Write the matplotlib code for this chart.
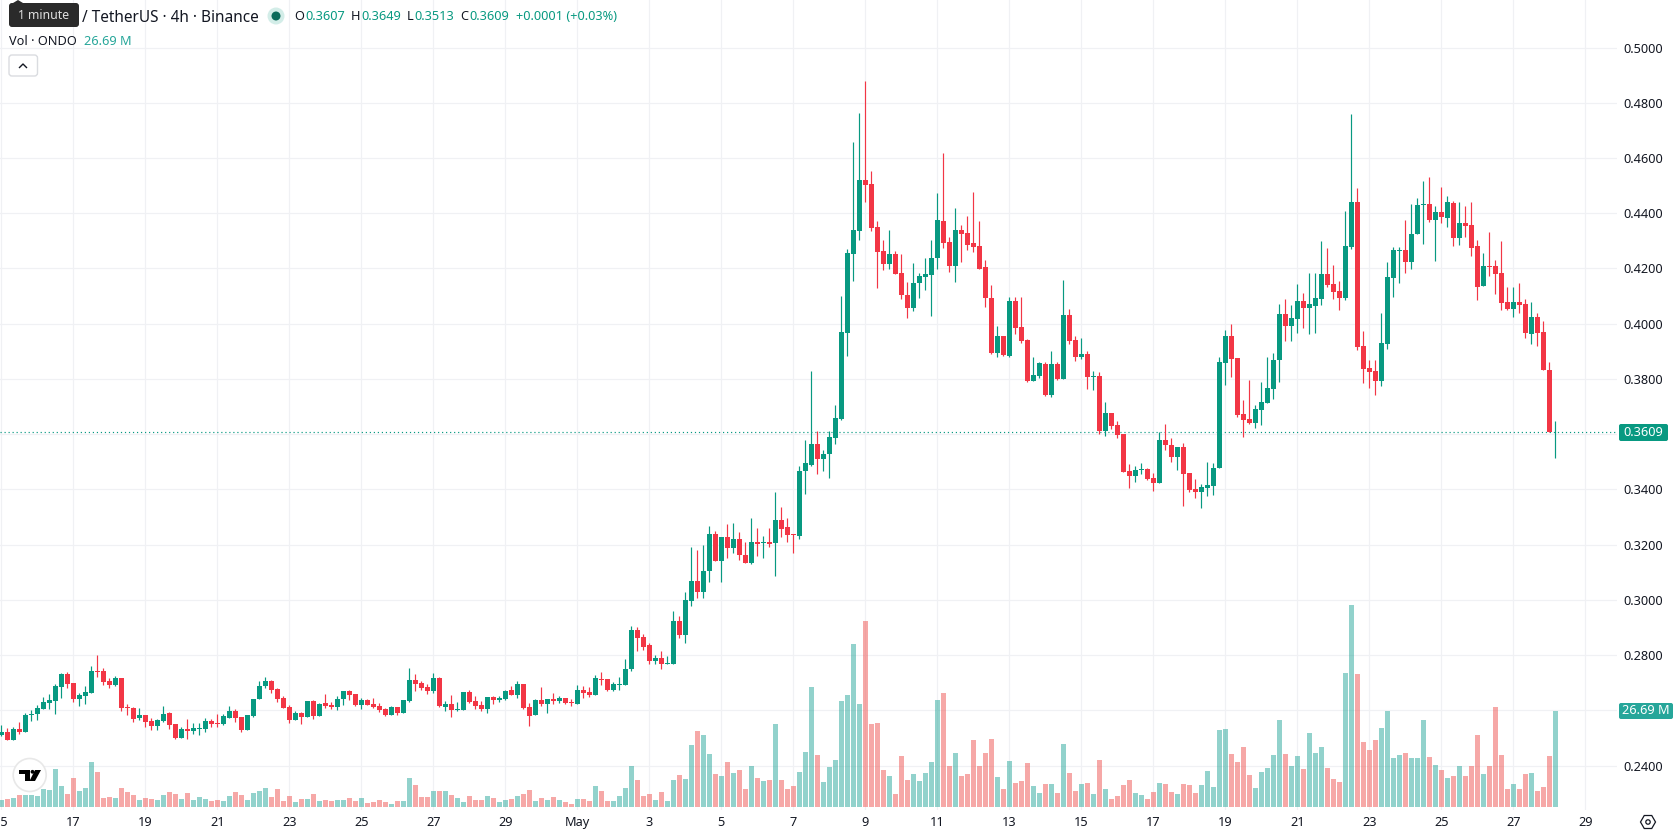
import matplotlib
matplotlib.use("Agg")
import matplotlib.pyplot as plt
import numpy as np
from matplotlib.patches import Circle, FancyBboxPatch, Polygon

plt.rcParams["font.family"] = ["Noto Sans", "DejaVu Sans"]

# ONDO/USDT, 4-hour candles
opens = [
    .2509, .2520, .2491, .2531, .2520, .2582, .2586, .2604, .2625, .2633,
    .2683, .2730, .2698, .2640, .2651, .2662, .2741, .2741, .2705, .2691,
    .2716, .2611, .2607, .2571, .2582, .2560, .2542, .2560, .2589, .2549,
    .2499, .2531, .2524, .2531, .2531, .2560, .2553, .2549, .2571, .2596,
    .2575, .2528, .2578, .2640, .2687, .2705, .2676, .2643, .2611, .2564,
    .2589, .2575, .2633, .2578, .2625, .2618, .2611, .2640, .2669, .2658,
    .2618, .2636, .2622, .2614, .2604, .2582, .2611, .2589, .2633, .2709,
    .2698, .2683, .2669, .2716, .2611, .2622, .2600, .2600, .2665, .2633,
    .2618, .2604, .2647, .2636, .2640, .2672, .2654, .2694, .2611, .2582,
    .2636, .2622, .2640, .2633, .2643, .2629, .2622, .2672, .2665, .2654,
    .2715, .2715, .2675, .2693, .2693, .2748, .2892, .2867, .2835, .2780,
    .2791, .2769, .2769, .2925, .2871, .2994, .3070, .3030, .3103, .3240,
    .3139, .3226, .3186, .3222, .3164, .3135, .3211, .3204, .3211, .3204,
    .3288, .3262, .3237, .3230, .3465, .3490, .3565, .3509, .3527, .3587,
    .3656, .3967, .4251, .4335, .4519, .4505, .4349, .4262, .4215, .4251,
    .4182, .4103, .4056, .4146, .4168, .4175, .4237, .4371, .4295, .4208,
    .4338, .4327, .4291, .4280, .4204, .4092, .3892, .3954, .3882, .4081,
    .3987, .3940, .3791, .3809, .3853, .3740, .3853, .3801, .4032, .3942,
    .3880, .3891, .3808, .3811, .3612, .3677, .3634, .3601, .3467, .3449,
    .3471, .3474, .3442, .3424, .3579, .3561, .3518, .3554, .3460, .3402,
    .3391, .3406, .3413, .3478, .3859, .3956, .3877, .3674, .3656, .3641,
    .3688, .3714, .3764, .3869, .4036, .3993, .4018, .4083, .4058, .4065,
    .4088, .4179, .4143, .4117, .4092, .4277, .4440, .3918, .3838, .3827,
    .3791, .3925, .4164, .4262, .4266, .4222, .4324, .4429, .4432, .4374,
    .4403, .4382, .4436, .4309, .4364, .4356, .4280, .4135, .4208, .4208,
    .4182, .4077, .4052, .4077, .4070, .3961, .4023, .3969, .3831, .3607,
]
closes = [
    .2520, .2491, .2531, .2520, .2582, .2586, .2607, .2629, .2636, .2687,
    .2730, .2694, .2640, .2654, .2665, .2741, .2738, .2701, .2691, .2716,
    .2607, .2607, .2567, .2582, .2557, .2542, .2564, .2586, .2546, .2499,
    .2531, .2524, .2535, .2535, .2560, .2549, .2549, .2578, .2596, .2571,
    .2528, .2582, .2640, .2687, .2705, .2672, .2640, .2607, .2564, .2589,
    .2575, .2633, .2578, .2622, .2614, .2611, .2640, .2669, .2654, .2618,
    .2636, .2618, .2611, .2600, .2582, .2611, .2589, .2636, .2709, .2694,
    .2680, .2669, .2716, .2614, .2622, .2600, .2604, .2665, .2629, .2614,
    .2604, .2647, .2636, .2643, .2669, .2654, .2694, .2607, .2578, .2636,
    .2622, .2640, .2633, .2643, .2625, .2625, .2672, .2662, .2654, .2716,
    .2711, .2675, .2697, .2697, .2751, .2892, .2863, .2831, .2780, .2791,
    .2769, .2773, .2925, .2871, .2998, .3070, .3030, .3106, .3240, .3139,
    .3226, .3186, .3222, .3161, .3135, .3211, .3201, .3211, .3201, .3288,
    .3255, .3233, .3233, .3465, .3494, .3565, .3509, .3527, .3590, .3659,
    .3971, .4255, .4338, .4519, .4501, .4345, .4259, .4215, .4251, .4179,
    .4103, .4056, .4146, .4172, .4179, .4237, .4374, .4291, .4208, .4338,
    .4324, .4284, .4277, .4197, .4092, .3892, .3954, .3885, .4081, .3983,
    .3936, .3791, .3813, .3856, .3740, .3853, .3798, .4032, .3938, .3880,
    .3891, .3808, .3811, .3612, .3677, .3630, .3598, .3463, .3449, .3471,
    .3474, .3438, .3424, .3579, .3561, .3518, .3554, .3456, .3398, .3391,
    .3409, .3416, .3478, .3862, .3956, .3873, .3670, .3652, .3641, .3692,
    .3717, .3768, .3869, .4036, .3993, .4022, .4083, .4058, .4072, .4094,
    .4179, .4139, .4114, .4092, .4280, .4440, .3914, .3835, .3824, .3791,
    .3929, .4168, .4266, .4266, .4222, .4324, .4429, .4432, .4374, .4403,
    .4385, .4440, .4309, .4364, .4353, .4273, .4132, .4208, .4204, .4179,
    .4074, .4052, .4077, .4066, .3965, .4023, .3965, .3831, .3607, .3609,
]
highs = [
    .2546, .2535, .2541, .2559, .2592, .2602, .2619, .2647, .2658, .2694,
    .2734, .2738, .2698, .2662, .2687, .2759, .2799, .2752, .2716, .2723,
    .2716, .2622, .2611, .2607, .2582, .2571, .2567, .2614, .2593, .2549,
    .2538, .2567, .2553, .2553, .2571, .2567, .2586, .2586, .2614, .2604,
    .2575, .2582, .2640, .2705, .2720, .2709, .2680, .2651, .2618, .2596,
    .2593, .2633, .2636, .2625, .2658, .2629, .2651, .2669, .2672, .2658,
    .2643, .2640, .2643, .2625, .2607, .2614, .2611, .2636, .2752, .2730,
    .2705, .2694, .2734, .2720, .2633, .2654, .2629, .2665, .2672, .2651,
    .2633, .2647, .2651, .2651, .2672, .2687, .2705, .2694, .2625, .2640,
    .2683, .2640, .2662, .2651, .2643, .2640, .2691, .2687, .2683, .2727,
    .2737, .2715, .2704, .2722, .2784, .2907, .2900, .2878, .2842, .2802,
    .2813, .2795, .2958, .2940, .3030, .3193, .3182, .3197, .3266, .3248,
    .3226, .3273, .3277, .3244, .3211, .3295, .3259, .3230, .3259, .3389,
    .3335, .3298, .3240, .3483, .3577, .3830, .3612, .3541, .3612, .3706,
    .4099, .4269, .4657, .4762, .4878, .4552, .4371, .4302, .4338, .4262,
    .4251, .4150, .4219, .4182, .4237, .4302, .4472, .4617, .4313, .4418,
    .4356, .4389, .4476, .4371, .4230, .4139, .3990, .3954, .4095, .4095,
    .4095, .3943, .3878, .3863, .3863, .3900, .3863, .4159, .4054, .3956,
    .3949, .3902, .3830, .3826, .3717, .3677, .3648, .3601, .3492, .3485,
    .3496, .3478, .3460, .3607, .3637, .3587, .3554, .3569, .3460, .3438,
    .3420, .3500, .3496, .3880, .3978, .4000, .3877, .3724, .3797, .3706,
    .3790, .3880, .3895, .4072, .4090, .4069, .4145, .4112, .4185, .4185,
    .4298, .4273, .4211, .4153, .4407, .4759, .4490, .3972, .3867, .3867,
    .4037, .4222, .4277, .4277, .4374, .4432, .4454, .4516, .4530, .4425,
    .4494, .4461, .4443, .4440, .4425, .4440, .4302, .4255, .4331, .4230,
    .4298, .4132, .4132, .4146, .4088, .4077, .4037, .4008, .3860, .3649,
]
lows = [
    .2507, .2491, .2491, .2513, .2520, .2561, .2564, .2604, .2604, .2586,
    .2643, .2680, .2629, .2614, .2622, .2662, .2720, .2691, .2680, .2687,
    .2596, .2582, .2557, .2564, .2538, .2528, .2528, .2557, .2531, .2495,
    .2499, .2495, .2513, .2509, .2520, .2538, .2538, .2546, .2571, .2557,
    .2520, .2528, .2575, .2640, .2680, .2662, .2629, .2607, .2553, .2564,
    .2549, .2575, .2567, .2578, .2607, .2604, .2600, .2618, .2636, .2614,
    .2604, .2618, .2607, .2593, .2578, .2582, .2582, .2589, .2629, .2669,
    .2672, .2658, .2662, .2611, .2596, .2575, .2596, .2600, .2625, .2604,
    .2596, .2589, .2622, .2629, .2636, .2654, .2643, .2604, .2542, .2582,
    .2614, .2589, .2622, .2625, .2622, .2614, .2622, .2643, .2647, .2654,
    .2693, .2671, .2671, .2675, .2693, .2744, .2816, .2820, .2769, .2766,
    .2748, .2769, .2769, .2860, .2845, .2976, .3008, .3008, .3066, .3139,
    .3063, .3153, .3168, .3143, .3132, .3128, .3157, .3150, .3193, .3088,
    .3226, .3211, .3168, .3222, .3382, .3483, .3454, .3465, .3440, .3565,
    .3652, .3884, .4153, .4302, .4440, .4335, .4128, .4193, .4197, .4179,
    .4088, .4019, .4045, .4092, .4121, .4027, .4197, .4273, .4186, .4150,
    .4222, .4266, .4259, .4197, .4059, .3889, .3878, .3882, .3878, .3961,
    .3929, .3787, .3791, .3802, .3737, .3733, .3795, .3801, .3927, .3866,
    .3873, .3764, .3761, .3601, .3594, .3619, .3587, .3463, .3406, .3427,
    .3456, .3434, .3395, .3424, .3543, .3500, .3471, .3340, .3391, .3369,
    .3333, .3377, .3380, .3478, .3779, .3808, .3663, .3590, .3637, .3623,
    .3634, .3714, .3728, .3790, .3938, .3938, .3967, .3985, .3964, .3967,
    .4066, .4132, .4088, .4048, .4085, .4269, .3903, .3784, .3766, .3740,
    .3773, .3907, .4095, .4146, .4182, .4197, .4324, .4287, .4367, .4226,
    .4364, .4349, .4280, .4284, .4313, .4244, .4085, .4135, .4172, .4106,
    .4048, .4048, .4023, .4037, .3947, .3925, .3918, .3831, .3607, .3513,
]
# Traded volume per candle, millions of ONDO
volumes = [
    1.86, 2.14, 2.42, 3.25, 3.25, 3.25, 2.97, 4.93, 4.65, 10.50,
    5.76, 3.53, 7.99, 4.37, 5.21, 12.46, 9.67, 2.42, 2.70, 2.42,
    5.21, 4.09, 3.25, 1.86, 2.42, 2.14, 1.86, 3.25, 4.09, 3.53,
    2.14, 3.81, 1.86, 2.70, 2.14, 1.58, 1.86, 1.58, 2.97, 4.09,
    3.25, 1.86, 3.81, 4.37, 5.21, 2.70, 4.93, 1.58, 2.97, 1.30,
    2.14, 2.14, 3.53, 1.58, 1.86, 1.58, 1.86, 1.86, 2.42, 1.58,
    2.42, 1.02, 1.30, 1.86, 1.30, 0.74, 1.58, 1.58, 7.99, 6.04,
    2.70, 2.70, 4.37, 4.37, 4.37, 3.25, 2.42, 1.30, 2.97, 1.86,
    1.86, 2.97, 2.42, 1.30, 1.86, 2.14, 2.97, 3.53, 4.65, 1.58,
    2.42, 1.86, 2.70, 1.86, 1.30, 0.74, 2.14, 2.23, 1.67, 5.86,
    4.46, 1.67, 1.67, 3.07, 5.30, 11.43, 7.53, 3.07, 3.63, 1.95,
    4.18, 1.67, 7.53, 8.92, 7.81, 17.29, 21.20, 20.08, 14.78, 9.20,
    8.65, 12.55, 9.48, 10.32, 5.02, 11.43, 8.09, 7.25, 7.53, 23.15,
    7.53, 5.02, 5.86, 9.76, 15.34, 33.47, 14.50, 6.97, 11.16, 13.11,
    29.56, 31.24, 45.46, 28.73, 51.87, 23.15, 23.43, 10.32, 8.65, 3.63,
    14.22, 7.53, 9.20, 7.25, 9.48, 12.55, 29.84, 31.79, 11.43, 15.06,
    8.65, 9.20, 18.69, 11.43, 15.06, 18.96, 8.37, 5.02, 12.83, 6.69,
    7.25, 12.27, 5.86, 3.90, 6.41, 6.41, 3.90, 17.57, 9.48, 4.46,
    6.41, 6.60, 3.53, 13.01, 4.93, 2.14, 2.97, 6.04, 7.44, 3.81,
    3.25, 2.14, 4.09, 6.60, 6.32, 4.09, 3.53, 6.32, 6.04, 3.81,
    6.04, 9.95, 5.48, 21.38, 21.66, 14.69, 12.46, 16.64, 8.83, 5.21,
    9.67, 10.78, 14.41, 24.17, 14.69, 11.34, 14.13, 10.50, 20.54, 14.97,
    16.64, 10.78, 7.72, 6.88, 37.28, 56.24, 37.00, 18.03, 15.80, 18.59,
    21.94, 26.68, 13.57, 14.41, 14.97, 13.57, 13.57, 24.17, 13.85, 11.62,
    10.23, 7.99, 8.55, 11.34, 8.55, 11.34, 19.99, 9.11, 11.34, 27.80,
    14.41, 4.93, 6.32, 4.93, 9.11, 9.39, 4.37, 5.48, 14.13, 26.69,
]
price_ticks = [0.50, 0.48, 0.46, 0.44, 0.42, 0.40, 0.38, 0.36, 0.34,
               0.32, 0.30, 0.28, 0.26, 0.24]
# These labels give way to the last-price and volume badges; their gridlines stay
hidden_price_labels = [0.36, 0.26]
# Every label below is two days (twelve candles) apart
date_labels = ["15", "17", "19", "21", "23", "25", "27", "29", "May", "3", "5",
               "7", "9", "11", "13", "15", "17", "19", "21", "23", "25", "27", "29"]
last_close = 0.3609
last_volume = 26.69

UP = "#089981"
DOWN = "#F23645"
VOL_UP = "#26A69A"
VOL_DOWN = "#EF5350"
GRID = "#F0F1F4"
INK = "#131722"

W, H = 1678, 835
fig = plt.figure(figsize=(W / 100, H / 100), dpi=100, facecolor="white")
pane = [0, 1 - 810 / H, 1617 / W, 810 / H]

idx = np.arange(len(opens))
o, h, l, c = map(np.array, (opens, highs, lows, closes))
rising = c >= o
candle_colors = np.where(rising, UP, DOWN)

# Price pane: grid, last-price line and candles
ax = fig.add_axes(pane, zorder=1)
ax.set_xlim(-0.217, 269.28)
ax.set_ylim(0.2239, 0.5172)
ax.set_axisbelow(True)
ax.grid(True, color=GRID, lw=0.85)
ax.axhline(last_close, color=UP, lw=0.85, ls=(0, (1, 2.4)), zorder=1)
ax.vlines(idx, l, h, colors=candle_colors, lw=0.85, zorder=2)
ax.bar(idx, c - o, bottom=o, width=5 / 6, color=candle_colors, lw=0, zorder=3)

ax.yaxis.tick_right()
ax.set_yticks(price_ticks)
ax.set_yticklabels(["" if p in hidden_price_labels else f"{p:.4f}" for p in price_ticks],
                   fontsize=9.2, color=INK)
ax.set_xticks(np.arange(len(date_labels)) * 12)
ax.set_xticklabels(date_labels, fontsize=9.2, color=INK)
ax.tick_params(axis="both", length=0)
ax.tick_params(axis="y", pad=4.5)
ax.tick_params(axis="x", pad=4)
for tick in ax.get_xticklabels():
    if tick.get_text() == "May":
        tick.set_fontweight("bold")
for side in ax.spines.values():
    side.set_visible(False)

# Volume histogram shares the pane, scaled on its own
vol = fig.add_axes(pane, zorder=2, sharex=ax)
vol.patch.set_alpha(0)
vol.set_ylim(-0.92, 225.0)
vol.bar(idx, volumes, width=5 / 6, lw=0, alpha=0.5,
        color=np.where(rising, VOL_UP, VOL_DOWN))
vol.axis("off")

# Legend, badges and toolbar widgets laid out in screen pixels
ui = fig.add_axes([0, 0, 1, 1], zorder=3)
ui.set_xlim(0, W)
ui.set_ylim(H, 0)
ui.axis("off")
ui.patch.set_alpha(0)


def badge(x0, y0, x1, y1, color, radius=2):
    ui.add_patch(FancyBboxPatch((x0 + radius, y0 + radius), x1 - x0 - 2 * radius,
                                y1 - y0 - 2 * radius,
                                boxstyle=f"round,pad={radius},rounding_size={radius}",
                                fc=color, ec="none"))


badge(9, 3, 79, 27, "#2A2A2A", 3)
ui.add_patch(Polygon([[13, 3], [18, 0], [23, 3]], fc="#2A2A2A", ec="none"))
ui.text(44, 15.5, "1 minute", color="#E0E0E0", fontsize=8.8, ha="center", va="center")
ui.text(82, 17.5, "/ TetherUS · 4h · Binance", color=INK, fontsize=11.05, va="center")
ui.add_patch(Circle((276, 16), 8.5, fc="#D3EDE8", ec="none"))
ui.add_patch(Circle((276, 16), 4.5, fc="#0B6B5B", ec="none"))

ohlc_parts = [(294, "O", INK), (305, "0.3607", UP), (351, "H", INK), (361, "0.3649", UP),
              (407, "L", INK), (414, "0.3513", UP), (460, "C", INK), (469, "0.3609", UP),
              (515.5, "+0.0001 (+0.03%)", UP)]
for x, text, color in ohlc_parts:
    ui.text(x, 17, text, color=color, fontsize=9.2, va="center")

ui.text(9, 41.5, "Vol · ONDO", color=INK, fontsize=9.2, va="center")
ui.text(84.5, 41.5, "26.69 M", color=VOL_UP, fontsize=9.2, va="center")

badge(9, 55, 37.5, 76, "white", 3)
ui.patches[-1].set_edgecolor("#DADCE0")
ui.plot([19.5, 23, 26.5], [67.5, 64, 67.5], color=INK, lw=1.0)

badge(1619, 424, 1668, 441, UP)
ui.text(1643.5, 432.5, f"{last_close:.4f}", color="white", fontsize=9.2,
        ha="center", va="center")
badge(1619, 703, 1673, 719, VOL_UP)
ui.text(1646, 711, f"{last_volume:.2f} M", color="white", fontsize=9.2,
        ha="center", va="center")

# Attribution roundel
ui.add_patch(Circle((29.7, 775), 16.5, fc="white", ec="#E8E8E8", lw=1.2))
ui.add_patch(Polygon([[19, 770], [29.5, 770], [29.5, 781], [24.5, 781], [24.5, 773.5], [19, 773.5]],
                     fc="black", ec="none"))
ui.add_patch(Circle((32.5, 771.8), 1.9, fc="black", ec="none"))
ui.add_patch(Polygon([[35, 770], [41, 770], [35, 781], [29.5, 781]], fc="black", ec="none"))

# Scale settings glyph in the corner
angles = np.deg2rad(np.arange(0, 360, 60))
ui.add_patch(Polygon(np.c_[1648 + 7.5 * np.cos(angles), 822 + 7.5 * np.sin(angles)],
                     fc="none", ec=INK, lw=0.9))
ui.add_patch(Circle((1648, 822), 2.2, fc="none", ec=INK, lw=0.9))

fig.savefig("out.png", dpi=100, facecolor="white")
